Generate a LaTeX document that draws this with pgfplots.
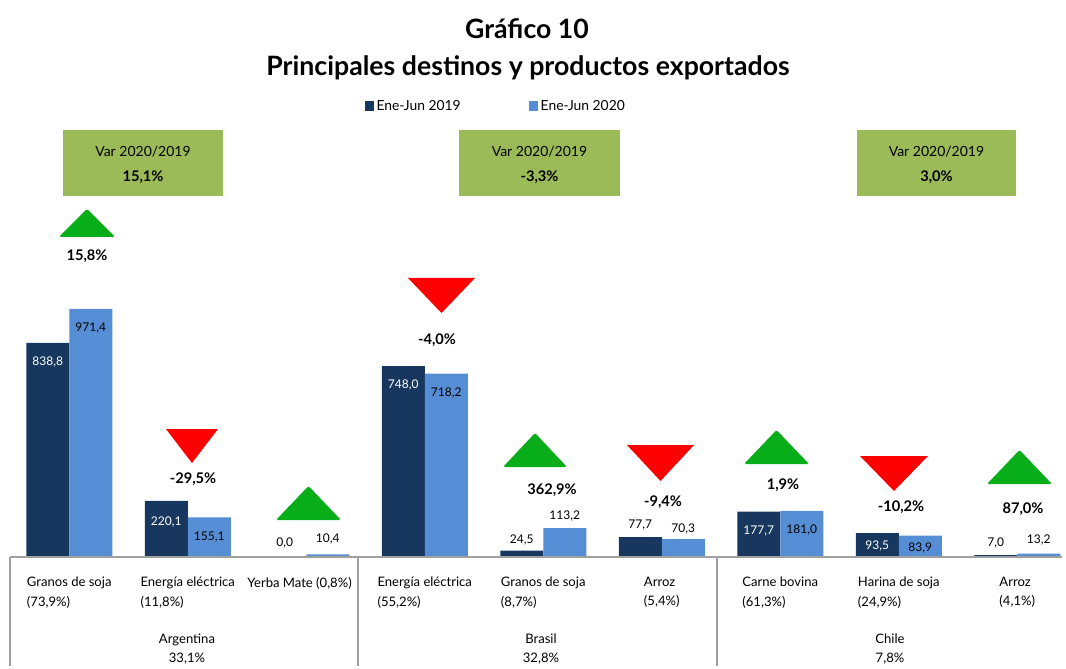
\documentclass[border=0pt]{standalone}
\usepackage{pgfplots}
\usepackage{pgfplotstable}
\pgfplotsset{compat=1.18}
\usepackage{fontspec}
\setmainfont{Lato}
\definecolor{cdark}{HTML}{17375E}
\definecolor{clight}{HTML}{558ED5}
\definecolor{boxg}{HTML}{9BBB59}
\definecolor{tgreen}{HTML}{08AE1A}
\definecolor{tred}{HTML}{FF0000}
\definecolor{lgray}{HTML}{A0A0A0}

\pgfplotstableread{
x y off w lab
0 838.8 -19 100 838,8
1 220.1 -21 100 220,1
2 0.0 14 0 0,0
3 748.0 -19 100 748,0
4 24.5 11 0 24,5
5 77.7 12 0 77,7
6 177.7 -19 100 177,7
7 93.5 -13 100 93,5
8 7.0 12 0 7,0
}\tabA
\pgfplotstableread{
x y off w lab
0 971.4 -19 0 971,4
1 155.1 -20 0 155,1
2 10.4 15 0 10,4
3 718.2 -19 0 718,2
4 113.2 12 0 113,2
5 70.3 10 0 70,3
6 181.0 -19 0 181,0
7 83.9 -12 0 83,9
8 13.2 14 0 13,2
}\tabB

\begin{document}
\begin{tikzpicture}
\begin{scope}[x=0.75pt,y=-0.75pt,yshift=499.5pt]
\path[use as bounding box] (0,0) rectangle (1066,666);
\end{scope}

\begin{axis}[
  at={(7.5pt,81.75pt)}, anchor=south west,
  x=88.875pt, y=0.191475pt,
  xmin=-0.5, xmax=8.38, ymin=0, ymax=1829,
  ybar=0pt, bar width=32.25pt,
  axis line style={draw=none},
  ytick=\empty,
  xtick={0,...,8},
  major tick length=0pt,
  xticklabels={{Granos de soja\\(73,9\%)},{Energía eléctrica\\(11,8\%)},{Yerba Mate\ (0,8\%)\hspace*{10pt}},{Energía eléctrica\\(55,2\%)},{Granos de soja\\(8,7\%)},{Arroz\\(5,4\%)},{Carne bovina\\(61,3\%)},{Harina de soja\\(24,9\%)},{Arroz\\(4,1\%)}},
  xticklabel style={align=left, anchor=north, yshift=-11.5pt, font=\fontsize{9.8}{14.6}\selectfont},
  legend style={at={(axis cs:2.49,1765)}, anchor=west, draw=none, fill=none, legend columns=2,
     font=\fontsize{10.4}{12}\selectfont, inner sep=0pt,
     /tikz/every even column/.append style={column sep=49pt}},
  legend cell align=left,
  clip=false,
]
\addplot[fill=cdark, draw=none,
  legend image code/.code={\fill[cdark] (0pt,-3.75pt) rectangle (7pt,3.75pt);},
  nodes near coords, point meta=explicit symbolic,
  visualization depends on={\thisrow{off} \as \off},
  visualization depends on={\thisrow{w} \as \wv},
  every node near coord/.append style={anchor=center, yshift=\off*0.75pt, text=white!\wv!black, font=\fontsize{9}{10}\selectfont}]
  table[x=x,y=y,meta=lab]{\tabA};
\addlegendentry{Ene-Jun 2019}
\addplot[fill=clight, draw=none,
  legend image code/.code={\fill[clight] (0pt,-3.75pt) rectangle (7pt,3.75pt);},
  nodes near coords, point meta=explicit symbolic,
  visualization depends on={\thisrow{off} \as \off},
  every node near coord/.append style={anchor=center, yshift=\off*0.75pt, text=black, font=\fontsize{9}{10}\selectfont}]
  table[x=x,y=y,meta=lab]{\tabB};
\addlegendentry{Ene-Jun 2020}
\draw[lgray, line width=0.8pt] (axis cs:-0.5,0) -- (axis cs:8.38,0);
\end{axis}

\begin{scope}[x=0.75pt,y=-0.75pt,yshift=499.5pt]
% titles
\node[anchor=base, font=\bfseries\fontsize{20}{22}\selectfont] at (527,39) {Gráfico 10};
\node[anchor=base, font=\bfseries\fontsize{20}{22}\selectfont] at (528,76) {Principales destinos y productos exportados};
% separators
\draw[lgray, line width=0.8pt] (10,557) -- (10,666);
\draw[lgray, line width=0.8pt] (358,557) -- (358,666);
\draw[lgray, line width=0.8pt] (717,557) -- (717,666);
% group labels
\begin{scope}[every node/.style={anchor=base, font=\fontsize{9.8}{12}\selectfont}]
\node at (187,643) {Argentina}; \node at (187,662) {33,1\%};
\node at (541,643) {Brasil}; \node at (541,662) {32,8\%};
\node at (890,643) {Chile}; \node at (890,662) {7,8\%};
\end{scope}
% boxes
\fill[boxg] (63,130) rectangle (223,196);
\fill[boxg] (459,130) rectangle (620,196);
\fill[boxg] (857,130) rectangle (1016,196);
\begin{scope}[every node/.style={anchor=base, font=\fontsize{10.5}{12}\selectfont}]
\node at (143,157) {Var 2020/2019}; \node[font=\bfseries\fontsize{11}{12}\selectfont] at (143,182) {15,1\%};
\node at (539.5,157) {Var 2020/2019}; \node[font=\bfseries\fontsize{11}{12}\selectfont] at (539.5,182) {-3,3\%};
\node at (936.5,157) {Var 2020/2019}; \node[font=\bfseries\fontsize{11}{12}\selectfont] at (936.5,182) {3,0\%};
\end{scope}
% triangles
\fill[tgreen, rounded corners=1.2pt] (59,237) -- (87,209) -- (115,237) -- cycle;
\fill[tred] (166,429) -- (218,429) -- (192,463) -- cycle;
\fill[tgreen, rounded corners=1.2pt] (276,520) -- (308.5,486) -- (341,520) -- cycle;
\fill[tred] (408,278) -- (475,278) -- (441.5,313) -- cycle;
\fill[tgreen, rounded corners=1.2pt] (503,467) -- (535,433) -- (567,467) -- cycle;
\fill[tred] (627,445) -- (694,445) -- (660.5,481) -- cycle;
\fill[tgreen, rounded corners=1.2pt] (744,464) -- (776.5,430) -- (809,464) -- cycle;
\fill[tred] (860,456) -- (928,456) -- (894,491) -- cycle;
\fill[tgreen, rounded corners=1.2pt] (987,484) -- (1019.5,450) -- (1052,484) -- cycle;
% percent labels
\begin{scope}[every node/.style={anchor=center, font=\bfseries\fontsize{11}{12}\selectfont}]
\node at (87,256) {15,8\%};
\node at (193,479) {-29,5\%};
\node at (437,340) {-4,0\%};
\node at (552,490) {362,9\%};
\node at (663,502) {-9,4\%};
\node at (783,485) {1,9\%};
\node at (901,507) {-10,2\%};
\node at (1023,509) {87,0\%};
\end{scope}
\end{scope}
\end{tikzpicture}
\end{document}
